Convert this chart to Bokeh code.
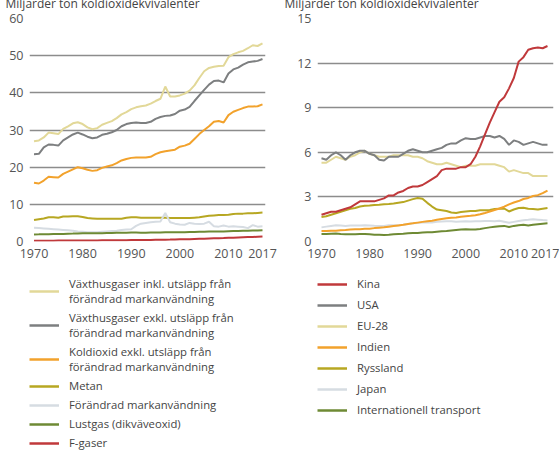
from bokeh.plotting import figure
from bokeh.models import Range1d, FixedTicker, Legend, LegendItem
from bokeh.layouts import row, column
from bokeh.embed import file_html
from bokeh.resources import INLINE

years = list(range(1970, 2018))
x_ticks = [1970, 1980, 1990, 2000, 2010, 2017]

# ---- Left panel: global emissions by gas (billion tonnes CO2e) ----
left_labels = [
    "Växthusgaser inkl. utsläpp från\nförändrad markanvändning",
    "Växthusgaser exkl. utsläpp från\nförändrad markanvändning",
    "Koldioxid exkl. utsläpp från\nförändrad markanvändning",
    "Metan",
    "Förändrad markanvändning",
    "Lustgas (dikväveoxid)",
    "F-gaser",
]
vaxt_inkl = [27.0, 27.2, 28.0, 29.3, 29.1, 28.9, 30.3, 31.0, 31.8, 32.1,
             31.6, 30.7, 30.2, 30.5, 31.4, 31.9, 32.4, 33.2, 34.2, 34.8,
             35.6, 36.1, 36.4, 36.6, 37.1, 37.8, 38.4, 41.7, 39.0, 39.0,
             39.3, 39.8, 40.6, 42.0, 44.0, 45.8, 46.7, 47.0, 47.2, 47.3,
             49.6, 50.4, 50.9, 51.3, 52.0, 52.8, 52.6, 53.3]
vaxt_exkl = [23.5, 23.6, 25.3, 26.1, 26.0, 25.8, 27.2, 28.0, 28.8, 29.3,
             28.8, 28.2, 27.8, 28.0, 28.7, 29.0, 29.4, 30.0, 31.0, 31.6,
             31.9, 32.0, 31.9, 31.9, 32.2, 33.0, 33.5, 33.8, 33.9, 34.3,
             35.2, 35.5, 36.2, 37.8, 39.3, 40.8, 42.2, 43.2, 43.3, 42.8,
             45.2, 46.3, 46.8, 47.6, 48.2, 48.4, 48.6, 49.1]
koldioxid = [15.8, 15.6, 16.4, 17.4, 17.3, 17.2, 18.2, 18.8, 19.4, 20.0,
             19.7, 19.3, 19.0, 19.2, 19.8, 20.2, 20.5, 21.1, 21.8, 22.2,
             22.5, 22.6, 22.6, 22.6, 22.8, 23.5, 24.0, 24.3, 24.5, 24.7,
             25.5, 25.8, 26.3, 27.6, 28.9, 30.0, 31.0, 32.2, 32.4, 32.0,
             34.0, 34.9, 35.4, 35.9, 36.3, 36.3, 36.4, 36.9]
metan = [5.8, 6.0, 6.2, 6.5, 6.5, 6.4, 6.7, 6.7, 6.8, 6.8,
         6.6, 6.3, 6.2, 6.1, 6.1, 6.1, 6.1, 6.1, 6.1, 6.4,
         6.5, 6.5, 6.4, 6.4, 6.4, 6.4, 6.4, 6.4, 6.3, 6.3,
         6.3, 6.3, 6.3, 6.4, 6.5, 6.7, 6.9, 7.0, 7.1, 7.1,
         7.2, 7.4, 7.5, 7.5, 7.6, 7.6, 7.7, 7.8]
markanv = [3.7, 3.6, 3.5, 3.4, 3.3, 3.2, 3.1, 3.0, 2.9, 2.7,
           2.6, 2.5, 2.5, 2.5, 2.6, 2.7, 2.8, 2.9, 3.1, 3.2,
           3.3, 4.2, 4.8, 5.0, 5.2, 5.3, 5.4, 7.7, 5.2, 4.8,
           4.6, 4.5, 5.0, 4.8, 4.7, 4.8, 5.3, 4.1, 4.0, 4.3,
           4.0, 4.1, 4.0, 3.9, 3.6, 4.4, 4.0, 4.1]
lustgas = [1.90, 1.92, 1.95, 1.98, 2.00, 2.00, 2.05, 2.10, 2.12, 2.15,
           2.20, 2.20, 2.20, 2.22, 2.25, 2.28, 2.30, 2.33, 2.35, 2.38,
           2.40, 2.40, 2.38, 2.38, 2.40, 2.42, 2.45, 2.47, 2.47, 2.47,
           2.50, 2.52, 2.55, 2.58, 2.62, 2.65, 2.68, 2.70, 2.72, 2.72,
           2.78, 2.82, 2.85, 2.88, 2.90, 2.93, 2.96, 3.00]
fgaser = [0.20, 0.20, 0.21, 0.22, 0.23, 0.24, 0.25, 0.26, 0.27, 0.28,
          0.29, 0.29, 0.30, 0.30, 0.31, 0.32, 0.33, 0.34, 0.35, 0.36,
          0.37, 0.38, 0.39, 0.40, 0.42, 0.45, 0.47, 0.50, 0.52, 0.55,
          0.58, 0.60, 0.63, 0.67, 0.71, 0.75, 0.80, 0.85, 0.90, 0.93,
          0.98, 1.03, 1.08, 1.13, 1.18, 1.23, 1.28, 1.33]
left_series = [vaxt_inkl, vaxt_exkl, koldioxid, metan, markanv, lustgas, fgaser]
left_ticks = [0, 10, 20, 30, 40, 50, 60]

# ---- Right panel: emissions by country/region ----
right_labels = ["Kina", "USA", "EU-28", "Indien", "Ryssland", "Japan",
                "Internationell transport"]
kina = [1.8, 1.9, 2.0, 2.0, 2.1, 2.2, 2.3, 2.5, 2.7, 2.7,
        2.7, 2.7, 2.8, 2.9, 3.1, 3.1, 3.3, 3.4, 3.6, 3.7,
        3.7, 3.8, 4.0, 4.2, 4.4, 4.8, 4.9, 4.9, 4.9, 5.0,
        5.0, 5.2, 5.7, 6.4, 7.2, 8.0, 8.7, 9.4, 9.7, 10.3,
        11.0, 12.1, 12.4, 12.9, 13.0, 13.05, 13.0, 13.15]
usa = [5.6, 5.5, 5.8, 6.0, 5.8, 5.5, 5.8, 6.0, 6.1, 6.1,
       5.9, 5.8, 5.5, 5.45, 5.7, 5.7, 5.7, 5.9, 6.1, 6.2,
       6.1, 6.0, 6.0, 6.1, 6.2, 6.3, 6.5, 6.6, 6.6, 6.8,
       6.95, 6.9, 6.9, 7.0, 7.1, 7.1, 7.0, 7.1, 6.9, 6.5,
       6.8, 6.7, 6.5, 6.6, 6.7, 6.6, 6.5, 6.5]
eu28 = [5.3, 5.3, 5.5, 5.7, 5.6, 5.5, 5.7, 5.8, 6.0, 6.1,
        5.9, 5.8, 5.7, 5.7, 5.7, 5.8, 5.8, 5.8, 5.8, 5.7,
        5.7, 5.6, 5.4, 5.3, 5.2, 5.2, 5.3, 5.2, 5.1, 5.0,
        5.1, 5.1, 5.1, 5.2, 5.2, 5.2, 5.2, 5.1, 5.0, 4.7,
        4.8, 4.7, 4.6, 4.6, 4.4, 4.4, 4.4, 4.4]
indien = [0.70, 0.70, 0.72, 0.73, 0.75, 0.77, 0.80, 0.82, 0.83, 0.85,
          0.86, 0.90, 0.93, 0.96, 1.00, 1.04, 1.08, 1.12, 1.18, 1.22,
          1.27, 1.32, 1.36, 1.40, 1.46, 1.52, 1.56, 1.60, 1.62, 1.66,
          1.70, 1.73, 1.77, 1.83, 1.92, 2.02, 2.12, 2.22, 2.34, 2.50,
          2.62, 2.72, 2.86, 2.93, 3.06, 3.12, 3.25, 3.42]
ryssland = [1.65, 1.70, 1.80, 1.90, 2.00, 2.10, 2.20, 2.25, 2.35, 2.40,
            2.42, 2.45, 2.47, 2.50, 2.52, 2.55, 2.60, 2.65, 2.75, 2.85,
            2.92, 2.88, 2.60, 2.35, 2.15, 2.10, 2.05, 1.95, 1.92, 1.98,
            2.02, 2.05, 2.05, 2.10, 2.10, 2.12, 2.18, 2.20, 2.22, 2.02,
            2.15, 2.25, 2.27, 2.20, 2.18, 2.15, 2.20, 2.25]
japan = [0.95, 1.00, 1.05, 1.10, 1.08, 1.05, 1.07, 1.08, 1.08, 1.10,
         1.08, 1.06, 1.05, 1.05, 1.10, 1.10, 1.10, 1.12, 1.18, 1.22,
         1.25, 1.27, 1.28, 1.28, 1.33, 1.35, 1.36, 1.36, 1.33, 1.35,
         1.37, 1.35, 1.37, 1.37, 1.38, 1.38, 1.37, 1.40, 1.33, 1.26,
         1.32, 1.38, 1.43, 1.46, 1.50, 1.47, 1.44, 1.42]
int_transport = [0.50, 0.50, 0.52, 0.53, 0.50, 0.48, 0.48, 0.49, 0.50, 0.50,
                 0.48, 0.46, 0.45, 0.44, 0.45, 0.48, 0.50, 0.52, 0.55, 0.57,
                 0.58, 0.60, 0.62, 0.63, 0.66, 0.69, 0.71, 0.74, 0.77, 0.80,
                 0.83, 0.80, 0.81, 0.84, 0.90, 0.95, 0.99, 1.03, 1.05, 0.98,
                 1.05, 1.10, 1.12, 1.08, 1.12, 1.16, 1.20, 1.22]
right_series = [kina, usa, eu28, indien, ryssland, japan, int_transport]
right_ticks = [0, 3, 6, 9, 12, 15]

title_text = "Miljarder ton koldioxidekvivalenter"

PALE = "#e2d898"
GREY = "#7d7f80"
ORANGE = "#f2a22c"
OLIVE = "#b7a722"
LIGHT = "#d6dce2"
GREEN = "#6e8a34"
RED = "#c0393b"
left_colors = [PALE, GREY, ORANGE, OLIVE, LIGHT, GREEN, RED]
right_colors = [RED, GREY, PALE, ORANGE, OLIVE, LIGHT, GREEN]

FONT = "Open Sans"
TEXT = "#444444"
TICKC = "#555555"
GRIDC = "#8c8c8c"

TOP_SHIFT = 15         # the heading sits partly above the picture's top edge
CHART_H = 280
LEG_H = 465 + TOP_SHIFT - CHART_H


def make_chart(width, b_left, b_right, x_start, x_end, y_ticks, series, colors,
               draw_order, title_offset):
    p = figure(width=width, height=CHART_H, output_backend="svg", toolbar_location=None,
               x_range=Range1d(x_start, x_end), y_range=Range1d(0, y_ticks[-1]),
               min_border_left=b_left, min_border_right=b_right,
               min_border_top=33, min_border_bottom=24)
    p.margin = (-TOP_SHIFT, 0, 0, 0)
    p.outline_line_color = None
    p.background_fill_color = None
    p.border_fill_color = None

    p.title.text = title_text
    p.title.align = "left"
    p.title.offset = title_offset
    p.title.standoff = 13
    p.title.text_font = FONT
    p.title.text_font_size = "12px"
    p.title.text_font_style = "normal"
    p.title.text_color = TEXT

    p.xgrid.grid_line_color = None
    p.yaxis.ticker = FixedTicker(ticks=y_ticks)
    p.ygrid.ticker = FixedTicker(ticks=y_ticks)
    p.ygrid.grid_line_color = GRIDC
    p.ygrid.grid_line_width = 1.5
    p.xaxis.ticker = FixedTicker(ticks=x_ticks)
    for ax in (p.xaxis, p.yaxis):
        ax.axis_line_color = None
        ax.major_tick_line_color = None
        ax.minor_tick_line_color = None
        ax.major_tick_in = 0
        ax.major_tick_out = 0
        ax.major_label_text_font = FONT
        ax.major_label_text_font_size = "12.5px"
        ax.major_label_text_color = TICKC
    p.yaxis.major_label_standoff = 6
    p.xaxis.major_label_standoff = 7

    for i in draw_order:
        p.line(years, series[i], line_color=colors[i], line_width=2)
    return p


def make_legend(width, b_left, b_top, labels, series, colors, spacing):
    # the legend strip reuses the series; its ranges keep the lines out of view
    q = figure(width=width, height=LEG_H, output_backend="svg", toolbar_location=None,
               x_axis_type=None, y_axis_type=None,
               x_range=Range1d(0, 1), y_range=Range1d(0, 1),
               min_border_left=b_left, min_border_right=0,
               min_border_top=b_top, min_border_bottom=0)
    q.outline_line_color = None
    q.background_fill_color = None
    q.border_fill_color = None
    items = []
    for lab, vals, col in zip(labels, series, colors):
        r = q.line(years, vals, line_color=col, line_width=2.5)
        items.append(LegendItem(label=lab, renderers=[r]))
    leg = Legend(items=items, location="top_left", orientation="vertical",
                 glyph_width=30, glyph_height=14, label_height=14, label_standoff=10,
                 spacing=spacing, padding=0, margin=0,
                 border_line_color=None, background_fill_alpha=0,
                 label_text_font=FONT, label_text_font_size="11.3px",
                 label_text_color=TEXT)
    q.add_layout(leg, "center")
    return q


p1 = make_chart(280, 29, 15, 1969.07, 2017.62, left_ticks, left_series, left_colors,
                [0, 1, 2, 3, 4, 5, 6], -24)
p2 = make_chart(279, 37, 6, 1969.17, 2018.25, right_ticks, right_series, right_colors,
                [6, 5, 4, 3, 2, 1, 0], -33)
l1 = make_legend(280, 28, 11, left_labels, left_series, left_colors, 4)
l2 = make_legend(279, 37, 11, right_labels, right_series, right_colors, 6)

layout = row(column(p1, l1), column(p2, l2))
open("out.html", "w").write(file_html(layout, INLINE))
